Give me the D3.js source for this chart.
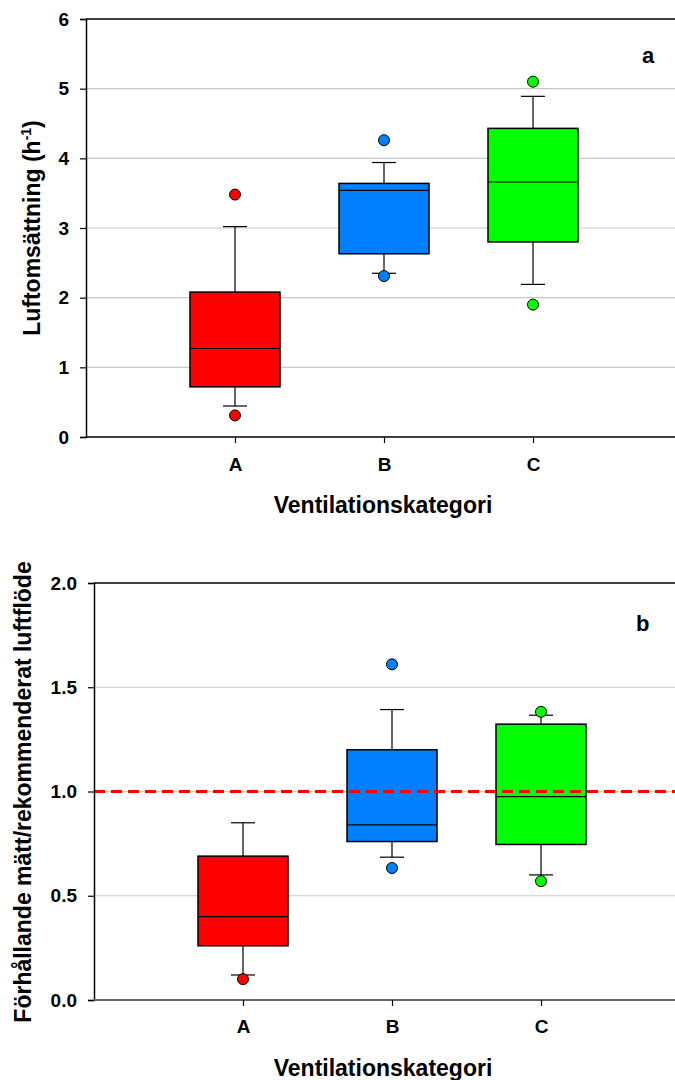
<!DOCTYPE html>
<html>
<head>
<meta charset="utf-8">
<script src="https://cdn.jsdelivr.net/npm/d3@7.9.0/dist/d3.min.js"></script>
<style>
  body { margin: 0; background: #fff; }
  svg { display: block; font-family: 'Liberation Sans', Arial, sans-serif; }
</style>
</head>
<body>
<svg id="chart" width="675" height="1080"></svg>
<script>
const categories = ['A', 'B', 'C'];
const colors = ['#ff0000', '#0080ff', '#00ff00'];

// panel a: luftomsättning (h-1)
const airLow = [0.445, 2.35, 2.19];
const airQ1 = [0.72, 2.63, 2.80];
const airMedian = [1.27, 3.54, 3.66];
const airQ3 = [2.08, 3.64, 4.43];
const airHigh = [3.02, 3.94, 4.89];
const airOutliers = [[0.31, 3.48], [2.31, 4.26], [1.90, 5.10]];
const airTicks = [0, 1, 2, 3, 4, 5, 6];

// panel b: förhållande mätt/rekommenderat luftflöde
const ratioLow = [0.12, 0.685, 0.60];
const ratioQ1 = [0.26, 0.76, 0.746];
const ratioMedian = [0.40, 0.84, 0.975];
const ratioQ3 = [0.69, 1.20, 1.323];
const ratioHigh = [0.85, 1.393, 1.366];
const ratioOutliers = [[0.10], [0.633, 1.61], [0.57, 1.382]];
const ratioTicks = [0, 0.5, 1.0, 1.5, 2.0];
const ratioRef = 1.0;

const svg = d3.select('#chart');
const font = "'Liberation Sans', Arial, sans-serif";

function drawPanel(p) {
  const g = svg.append('g');
  const y = d3.scaleLinear().domain([p.ticks[0], p.ticks[p.ticks.length - 1]]).range([p.bottom, p.top]);
  const x = d3.scalePoint().domain(categories).range([p.left, p.left + 596]).padding(1);

  // gridlines
  g.selectAll('line.grid')
    .data(p.ticks.slice(1, -1))
    .enter()
    .append('line')
    .attr('x1', p.left).attr('x2', 675)
    .attr('y1', d => y(d)).attr('y2', d => y(d))
    .attr('stroke', '#c8c8c8').attr('stroke-width', 1.2);

  const stats = categories.map((c, i) => ({
    c, i, low: p.low[i], q1: p.q1[i], med: p.median[i], q3: p.q3[i], high: p.high[i]
  }));

  const boxes = g.selectAll('g.box').data(stats).enter().append('g');
  const bw = 90, cw = 24;

  boxes.append('line')
    .attr('x1', d => x(d.c)).attr('x2', d => x(d.c))
    .attr('y1', d => y(d.high)).attr('y2', d => y(d.q3))
    .attr('stroke', '#000').attr('stroke-width', 1.2);
  boxes.append('line')
    .attr('x1', d => x(d.c)).attr('x2', d => x(d.c))
    .attr('y1', d => y(d.q1)).attr('y2', d => y(d.low))
    .attr('stroke', '#000').attr('stroke-width', 1.2);
  boxes.append('line')
    .attr('x1', d => x(d.c) - cw / 2).attr('x2', d => x(d.c) + cw / 2)
    .attr('y1', d => y(d.high)).attr('y2', d => y(d.high))
    .attr('stroke', '#000').attr('stroke-width', 1.2);
  boxes.append('line')
    .attr('x1', d => x(d.c) - cw / 2).attr('x2', d => x(d.c) + cw / 2)
    .attr('y1', d => y(d.low)).attr('y2', d => y(d.low))
    .attr('stroke', '#000').attr('stroke-width', 1.2);
  boxes.append('rect')
    .attr('x', d => x(d.c) - bw / 2).attr('width', bw)
    .attr('y', d => y(d.q3)).attr('height', d => y(d.q1) - y(d.q3))
    .attr('fill', d => colors[d.i])
    .attr('stroke', '#000').attr('stroke-width', 1.5);
  boxes.append('line')
    .attr('x1', d => x(d.c) - bw / 2).attr('x2', d => x(d.c) + bw / 2)
    .attr('y1', d => y(d.med)).attr('y2', d => y(d.med))
    .attr('stroke', '#000').attr('stroke-width', 1.2);

  const pts = categories.flatMap((c, i) => p.outliers[i].map(v => ({ c, i, v })));
  g.selectAll('circle')
    .data(pts)
    .enter()
    .append('circle')
    .attr('cx', d => x(d.c)).attr('cy', d => y(d.v)).attr('r', 5.5)
    .attr('fill', d => colors[d.i])
    .attr('stroke', '#000').attr('stroke-width', 1);

  if (p.ref !== undefined) {
    g.append('line')
      .attr('x1', p.left).attr('x2', 675)
      .attr('y1', y(p.ref)).attr('y2', y(p.ref))
      .attr('stroke', '#ff0000').attr('stroke-width', 3.2)
      .attr('stroke-dasharray', '11,6');
  }

  // frame top
  g.append('line')
    .attr('x1', p.left).attr('x2', 675)
    .attr('y1', p.top).attr('y2', p.top)
    .attr('stroke', '#000').attr('stroke-width', 1.5);

  // y axis
  const yAxis = g.append('g')
    .attr('transform', `translate(${p.left},0)`)
    .call(d3.axisLeft(y).tickValues(p.ticks).tickFormat(p.format).tickSize(6).tickPadding(11));
  yAxis.select('.domain').attr('stroke', '#000').attr('stroke-width', 1.5);
  yAxis.selectAll('.tick line').attr('stroke', '#000').attr('stroke-width', 1.2);
  yAxis.selectAll('text').attr('font-size', 19).attr('font-weight', 'bold').attr('fill', '#000')
    .attr('font-family', font);

  // x axis
  const xAxis = g.append('g')
    .attr('transform', `translate(0,${p.bottom})`)
    .call(d3.axisBottom(x).tickSize(6).tickPadding(p.xPad).tickSizeOuter(0));
  xAxis.select('.domain').attr('d', `M${p.left},0H675`)
    .attr('stroke', p.xAxisColor).attr('stroke-width', p.xAxisWidth);
  xAxis.selectAll('.tick line').attr('stroke', '#000').attr('stroke-width', 1.2);
  xAxis.selectAll('text').attr('font-size', 19).attr('font-weight', 'bold').attr('fill', '#000')
    .attr('font-family', font);

  // axis titles
  g.append('text')
    .attr('x', 383).attr('y', p.bottom + 76)
    .attr('text-anchor', 'middle')
    .attr('font-size', 23).attr('font-weight', 'bold')
    .text('Ventilationskategori');

  const yt = g.append('text')
    .attr('transform', `translate(${p.yTitleX},${p.yTitleY}) rotate(-90)`)
    .attr('text-anchor', 'middle')
    .attr('font-size', 23).attr('font-weight', 'bold');
  p.yTitle(yt);

  g.append('text')
    .attr('x', p.labelX).attr('y', p.top + p.labelDy)
    .attr('font-size', 22).attr('font-weight', 'bold')
    .text(p.label);
}

drawPanel({
  top: 19, bottom: 437, left: 86,
  ticks: airTicks, format: d3.format('d'),
  low: airLow, q1: airQ1, median: airMedian, q3: airQ3, high: airHigh, outliers: airOutliers,
  xAxisColor: '#000', xAxisWidth: 1.5, xPad: 15,
  yTitleX: 40, yTitleY: 228,
  yTitle: t => {
    t.append('tspan').text('Luftomsättning (h');
    t.append('tspan').attr('font-size', 14).attr('dy', -9).text('-1');
    t.append('tspan').attr('dy', 9).text(')');
  },
  label: 'a', labelX: 642, labelDy: 44
});

drawPanel({
  top: 583, bottom: 1000, left: 94,
  ticks: ratioTicks, format: d3.format('.1f'),
  low: ratioLow, q1: ratioQ1, median: ratioMedian, q3: ratioQ3, high: ratioHigh, outliers: ratioOutliers,
  ref: ratioRef,
  xAxisColor: '#666', xAxisWidth: 2.2, xPad: 14,
  yTitleX: 31, yTitleY: 792,
  yTitle: t => t.text('Förhållande mätt/rekommenderat luftflöde'),
  label: 'b', labelX: 636, labelDy: 48
});
</script>
</body>
</html>
